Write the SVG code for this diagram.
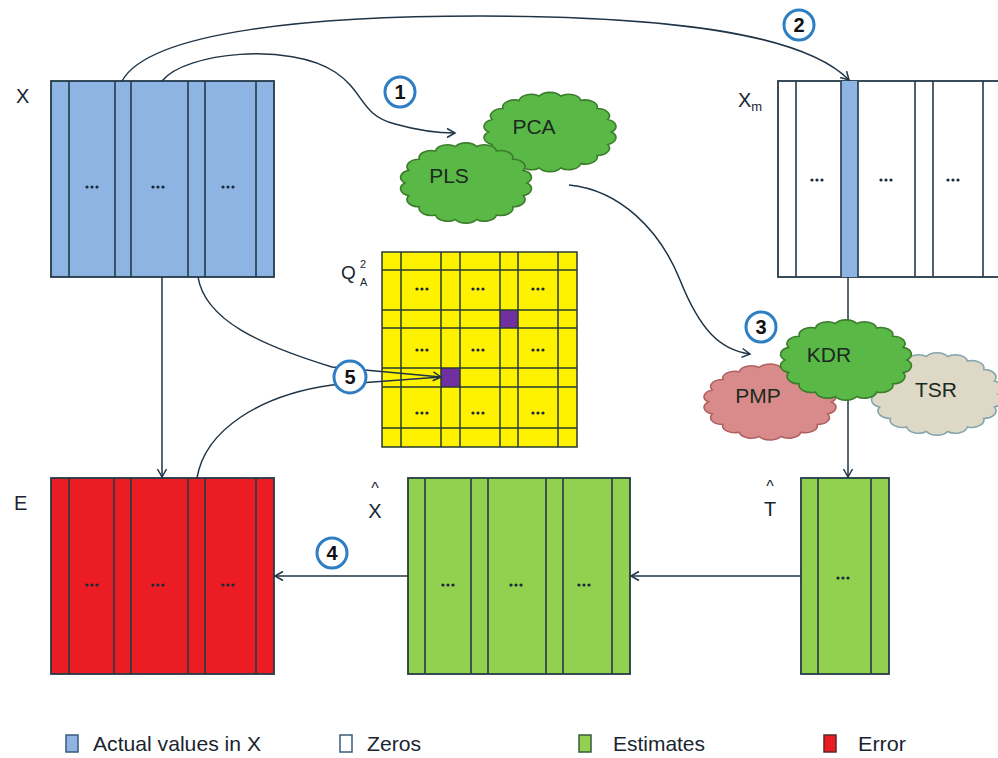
<svg xmlns="http://www.w3.org/2000/svg" xmlns:xlink="http://www.w3.org/1999/xlink" width="998" height="758" viewBox="0 0 998 758">
<style>
.mx{stroke:#233a48;stroke-width:1.8}
.ln{stroke:#233a48;stroke-width:1.6}
.blue{fill:#8db4e2}
.red{fill:#ec1c24}
.grn{fill:#92d050}
.wht{fill:#ffffff}
.yel{fill:#fff200}
.gl{stroke:#263a30;stroke-width:1.5}
.dot{fill:#1a2a3a}
.lbl{font-family:"Liberation Sans",Arial,sans-serif;fill:#1a2530}
.cl{font-family:"Liberation Sans",Arial,sans-serif;font-size:21px;fill:#1a2a20;text-anchor:middle}
.con{fill:none;stroke:#1f3446;stroke-width:1.5}
.cg{fill:#5ab946;stroke:#3b7d2c}
.cp{fill:#d98a8a;stroke:#b06060}
.ct{fill:#ddd9c6;stroke:#86a4ab}
.bdg{fill:#ffffff;stroke:#2e7ec4;stroke-width:3}
.num{font-family:"Liberation Sans",Arial,sans-serif;font-size:20px;font-weight:bold;fill:#111;text-anchor:middle}
.leg{font-family:"Liberation Sans",Arial,sans-serif;font-size:21px;fill:#1a2530}
</style>
<defs>
<marker id="arr" markerWidth="12" markerHeight="12" refX="10" refY="6" orient="auto" markerUnits="userSpaceOnUse">
<path d="M2,1.5 L10,6 L2,10.5" fill="none" stroke="#1f3446" stroke-width="1.5"/>
</marker>
<g id="dots"><circle cx="-5" cy="0" r="1.6"/><circle cx="0" cy="0" r="1.6"/><circle cx="5" cy="0" r="1.6"/></g>
<path id="cloud" vector-effect="non-scaling-stroke" stroke-width="1.6" d="M50,0 A10,10 0 0 1 46.98,17.10 A10,10 0 0 1 38.30,32.14 A10,10 0 0 1 25,43.30 A10,10 0 0 1 8.68,49.24 A10,10 0 0 1 -8.68,49.24 A10,10 0 0 1 -25,43.30 A10,10 0 0 1 -38.30,32.14 A10,10 0 0 1 -46.98,17.10 A10,10 0 0 1 -50,0 A10,10 0 0 1 -46.98,-17.10 A10,10 0 0 1 -38.30,-32.14 A10,10 0 0 1 -25,-43.30 A10,10 0 0 1 -8.68,-49.24 A10,10 0 0 1 8.68,-49.24 A10,10 0 0 1 25,-43.30 A10,10 0 0 1 38.30,-32.14 A10,10 0 0 1 46.98,-17.10 A10,10 0 0 1 50,0 Z"/>
</defs>
<rect width="998" height="758" fill="#ffffff"/>

<g id="matrix-X">
<rect x="51" y="81" width="223" height="196" class="blue mx"/>
<path class="ln" d="M69,81V277M115,81V277M131,81V277M188,81V277M205,81V277M256,81V277"/>
<g class="dot"><use xlink:href="#dots" x="92" y="187"/><use xlink:href="#dots" x="158" y="187"/><use xlink:href="#dots" x="228" y="187"/></g>
<text class="lbl" x="16" y="103" font-size="20">X</text>
</g>

<g id="matrix-Xm">
<rect x="778" y="81" width="224" height="196" class="wht mx" stroke="#2f5f74"/>
<rect x="841" y="81" width="17" height="196" class="blue"/>
<path class="ln" d="M796,81V277M841,81V277M858,81V277M915,81V277M933,81V277M983,81V277"/>
<g class="dot"><use xlink:href="#dots" x="817" y="180"/><use xlink:href="#dots" x="886" y="180"/><use xlink:href="#dots" x="953" y="180"/></g>
<text class="lbl" x="738" y="107" font-size="20">X<tspan font-size="13" dy="4">m</tspan></text>
</g>

<g id="matrix-Q">
<rect x="382" y="252" width="195" height="195" class="yel"/>
<rect x="500" y="310" width="18" height="18" fill="#7030a0"/>
<rect x="441" y="368" width="19" height="19" fill="#7030a0"/>
<path class="gl" fill="none" d="M382,252H577V447H382Z M401,252V447M441,252V447M460,252V447M500,252V447M518,252V447M558,252V447 M382,270H577M382,310H577M382,328H577M382,368H577M382,387H577M382,428H577"/>
<g class="dot"><use xlink:href="#dots" x="422" y="289"/><use xlink:href="#dots" x="478" y="289"/><use xlink:href="#dots" x="538" y="289"/><use xlink:href="#dots" x="422" y="350"/><use xlink:href="#dots" x="478" y="350"/><use xlink:href="#dots" x="538" y="350"/><use xlink:href="#dots" x="422" y="413"/><use xlink:href="#dots" x="478" y="413"/><use xlink:href="#dots" x="538" y="413"/></g>
<text class="lbl" x="341" y="279" font-size="19">Q</text>
<text class="lbl" x="360" y="268" font-size="11">2</text>
<text class="lbl" x="360" y="286" font-size="11">A</text>
</g>

<g id="matrix-E">
<rect x="51" y="478" width="223" height="196" class="red mx"/>
<path class="ln" stroke="#3a1a1a" d="M69,478V674M114,478V674M131,478V674M188,478V674M205,478V674M256,478V674"/>
<g class="dot"><use xlink:href="#dots" x="92" y="585"/><use xlink:href="#dots" x="158" y="585"/><use xlink:href="#dots" x="228" y="585"/></g>
<text class="lbl" x="14" y="510" font-size="20">E</text>
</g>

<g id="matrix-Xhat">
<rect x="408" y="478" width="222" height="196" class="grn mx"/>
<path class="ln" d="M425,478V674M471,478V674M488,478V674M546,478V674M563,478V674M612,478V674"/>
<g class="dot"><use xlink:href="#dots" x="448" y="585"/><use xlink:href="#dots" x="516" y="585"/><use xlink:href="#dots" x="584" y="585"/></g>
<text class="lbl" x="375" y="494" font-size="16" text-anchor="middle">^</text>
<text class="lbl" x="375" y="518" font-size="20" text-anchor="middle">X</text>
</g>

<g id="matrix-That">
<rect x="801" y="478" width="88" height="196" class="grn mx"/>
<path class="ln" d="M818,478V674M871,478V674"/>
<g class="dot"><use xlink:href="#dots" x="843" y="578"/></g>
<text class="lbl" x="770" y="492" font-size="16" text-anchor="middle">^</text>
<text class="lbl" x="770" y="516" font-size="20" text-anchor="middle">T</text>
</g>

<g id="connectors">
<path class="con" marker-end="url(#arr)" d="M122,81 C150,30 320,16 480,16 C650,16 800,30 849,80"/>
<path class="con" marker-end="url(#arr)" d="M162,81 C185,52 290,42 335,72 C365,92 360,115 395,124 C420,131 440,133 455,133"/>
<path class="con" marker-end="url(#arr)" d="M569,185 C620,190 660,230 680,280 C700,330 720,350 750,354"/>
<path class="con" marker-end="url(#arr)" d="M162,277 V477"/>
<path class="con" marker-end="url(#arr)" d="M198,277 C205,320 260,345 332,367 L441,377"/>
<path class="con" d="M197,478 C205,430 260,395 332,385 L441,377"/>
<path class="con" marker-end="url(#arr)" d="M408,576 H275"/>
<path class="con" marker-end="url(#arr)" d="M801,576 H631"/>
<path class="con" marker-end="url(#arr)" d="M848,277 V477"/>
</g>

<g id="cloud-PCA">
<use xlink:href="#cloud" class="cg" transform="translate(550,132) scale(1.23,0.73)"/>
<text class="cl" x="534" y="134">PCA</text>
</g>
<g id="cloud-PLS">
<use xlink:href="#cloud" class="cg" transform="translate(466,183) scale(1.22,0.74)"/>
<text class="cl" x="449" y="183">PLS</text>
</g>
<g id="cloud-PMP">
<use xlink:href="#cloud" class="cp" transform="translate(770,402) scale(1.23,0.7)"/>
<text class="cl" x="758" y="403">PMP</text>
</g>
<g id="cloud-TSR">
<use xlink:href="#cloud" class="ct" transform="translate(937,394) scale(1.22,0.76)"/>
<text class="cl" x="936" y="397">TSR</text>
</g>
<g id="cloud-KDR">
<use xlink:href="#cloud" class="cg" transform="translate(846,360) scale(1.22,0.74)"/>
<text class="cl" x="829" y="362">KDR</text>
</g>

<g id="badges">
<circle class="bdg" cx="400" cy="92" r="15"/><text class="num" x="400" y="99">1</text>
<circle class="bdg" cx="799" cy="25" r="15"/><text class="num" x="799" y="32">2</text>
<circle class="bdg" cx="761" cy="327" r="15"/><text class="num" x="761" y="334">3</text>
<circle class="bdg" cx="332" cy="553" r="15"/><text class="num" x="332" y="560">4</text>
<circle class="bdg" cx="350" cy="377" r="16"/><text class="num" x="350" y="384">5</text>
</g>

<g id="legend">
<rect x="66" y="735" width="12" height="17" class="blue" stroke="#3a5a7a" stroke-width="1.5"/>
<text class="leg" x="93" y="751" textLength="168" lengthAdjust="spacingAndGlyphs">Actual values in X</text>
<rect x="340" y="735" width="12" height="17" fill="#fff" stroke="#3a5a7a" stroke-width="1.5"/>
<text class="leg" x="367" y="751" textLength="54" lengthAdjust="spacingAndGlyphs">Zeros</text>
<rect x="579" y="735" width="12" height="17" class="grn" stroke="#3a5a3a" stroke-width="1.5"/>
<text class="leg" x="613" y="751" textLength="92" lengthAdjust="spacingAndGlyphs">Estimates</text>
<rect x="824" y="735" width="12" height="17" class="red" stroke="#5a2a2a" stroke-width="1.5"/>
<text class="leg" x="858" y="751" textLength="48" lengthAdjust="spacingAndGlyphs">Error</text>
</g>
</svg>
